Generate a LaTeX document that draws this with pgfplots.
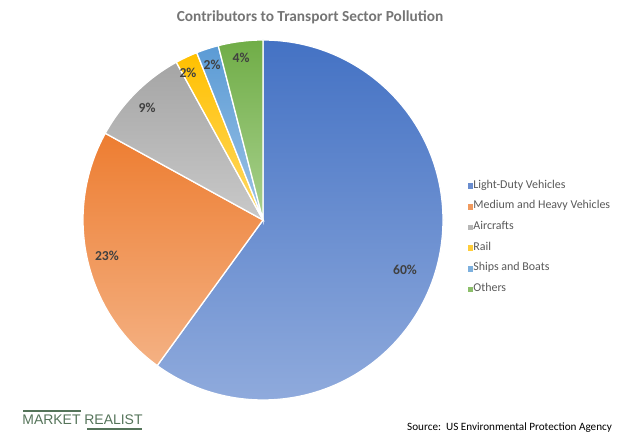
\documentclass[border=0pt]{standalone}
\usepackage{pgfplots}
\pgfplotsset{compat=1.18}
\usepackage{fontspec}
\setmainfont{Carlito}
\newfontfamily\logofont{Liberation Sans}
\definecolor{c1a}{HTML}{4472C4}\definecolor{c1b}{HTML}{8FAADC}\definecolor{c1m}{HTML}{6A8DCF}
\definecolor{c2a}{HTML}{ED7D31}\definecolor{c2b}{HTML}{F4B183}\definecolor{c2m}{HTML}{F09A5E}
\definecolor{c3a}{HTML}{A5A5A5}\definecolor{c3b}{HTML}{C9C9C9}\definecolor{c3m}{HTML}{B7B7B7}
\definecolor{c4a}{HTML}{FFC000}\definecolor{c4b}{HTML}{FFD966}\definecolor{c4m}{HTML}{FFCD3A}
\definecolor{c5a}{HTML}{5B9BD5}\definecolor{c5b}{HTML}{9DC3E6}\definecolor{c5m}{HTML}{7DB0DE}
\definecolor{c6a}{HTML}{70AD47}\definecolor{c6b}{HTML}{A9D18E}\definecolor{c6m}{HTML}{8CBF6A}
\definecolor{lbl}{HTML}{404040}
\definecolor{ttl}{HTML}{757575}
\definecolor{leg}{HTML}{595959}
\definecolor{logo}{HTML}{55745A}
\begin{document}
\begin{tikzpicture}[x=1bp,y=1bp]
\path[use as bounding box] (0,0) rectangle (621,445);
\begin{axis}[
  at={(263bp,225bp)}, anchor=origin,
  hide axis, scale only axis, clip=false,
  x=180bp, y=180bp,
  xmin=-1, xmax=1, ymin=-1, ymax=1,
  legend cell align=left,
  legend style={at={(axis description cs:1.069,0.609)}, anchor=north west,
    draw=none, fill=none, inner sep=0pt, outer sep=0pt,
    font=\fontsize{12}{14}\selectfont, text=leg,
    row sep=10.5bp,
    nodes={inner sep=0.6bp, text height=0.7em, text depth=0.2em}},
]
% slices: percentage shares, clockwise from 12 o'clock
\addplot[forget plot, draw=white, line width=1.3bp, top color=c1a, bottom color=c1b]
  coordinates {(0,0)} -- ++(90:180bp) arc[start angle=90, delta angle=-3.6*60, radius=180bp] -- cycle;
\addplot[forget plot, draw=white, line width=1.3bp, top color=c2a, bottom color=c2b]
  coordinates {(0,0)} -- ++(-126:180bp) arc[start angle=-126, delta angle=-3.6*23, radius=180bp] -- cycle;
\addplot[forget plot, draw=white, line width=1.3bp, top color=c3a, bottom color=c3b]
  coordinates {(0,0)} -- ++(-208.8:180bp) arc[start angle=-208.8, delta angle=-3.6*9, radius=180bp] -- cycle;
\addplot[forget plot, draw=white, line width=1.3bp, top color=c4a, bottom color=c4b]
  coordinates {(0,0)} -- ++(-241.2:180bp) arc[start angle=-241.2, delta angle=-3.6*2, radius=180bp] -- cycle;
\addplot[forget plot, draw=white, line width=1.3bp, top color=c5a, bottom color=c5b]
  coordinates {(0,0)} -- ++(-248.4:180bp) arc[start angle=-248.4, delta angle=-3.6*2, radius=180bp] -- cycle;
\addplot[forget plot, draw=white, line width=1.3bp, top color=c6a, bottom color=c6b]
  coordinates {(0,0)} -- ++(-255.6:180bp) arc[start angle=-255.6, delta angle=-3.6*4, radius=180bp] -- cycle;

\addlegendimage{legend image code/.code={\fill[c1m] (0bp,-2.2bp) rectangle (4.5bp,2.3bp);}}
\addlegendentry{Light-Duty Vehicles}
\addlegendimage{legend image code/.code={\fill[c2m] (0bp,-2.2bp) rectangle (4.5bp,2.3bp);}}
\addlegendentry{Medium and Heavy Vehicles}
\addlegendimage{legend image code/.code={\fill[c3m] (0bp,-2.2bp) rectangle (4.5bp,2.3bp);}}
\addlegendentry{Aircrafts}
\addlegendimage{legend image code/.code={\fill[c4m] (0bp,-2.2bp) rectangle (4.5bp,2.3bp);}}
\addlegendentry{Rail}
\addlegendimage{legend image code/.code={\fill[c5m] (0bp,-2.2bp) rectangle (4.5bp,2.3bp);}}
\addlegendentry{Ships and Boats}
\addlegendimage{legend image code/.code={\fill[c6m] (0bp,-2.2bp) rectangle (4.5bp,2.3bp);}}
\addlegendentry{Others}

\begin{scope}[every node/.style={font=\bfseries\fontsize{13.7}{16}\selectfont, text=lbl}]
\node at (axis cs:0.789,-0.278) {60\%};
\node at (axis cs:-0.867,-0.200) {23\%};
\node at (axis cs:-0.644,0.622) {9\%};
\node at (axis cs:-0.417,0.817) {2\%};
\node at (axis cs:-0.283,0.861) {2\%};
\node at (axis cs:-0.122,0.900) {4\%};
\end{scope}
\end{axis}
\node[font=\bfseries\fontsize{15.4}{18}\selectfont, text=ttl] at (310,428) {Contributors to Transport Sector Pollution};
\node[font=\logofont\fontsize{14}{16}\selectfont, text=logo, inner sep=0pt] at (82.5,25) {MARKET REALIST};
\draw[logo, line width=1.4bp] (23,34) -- (81,34);
\draw[logo, line width=1.4bp] (87,16) -- (142,16);
\node[font=\fontsize{11.2}{13}\selectfont, text=black, anchor=west, inner sep=0pt] at (407,17) {Source:\ \ US Environmental Protection Agency};
\end{tikzpicture}
\end{document}
